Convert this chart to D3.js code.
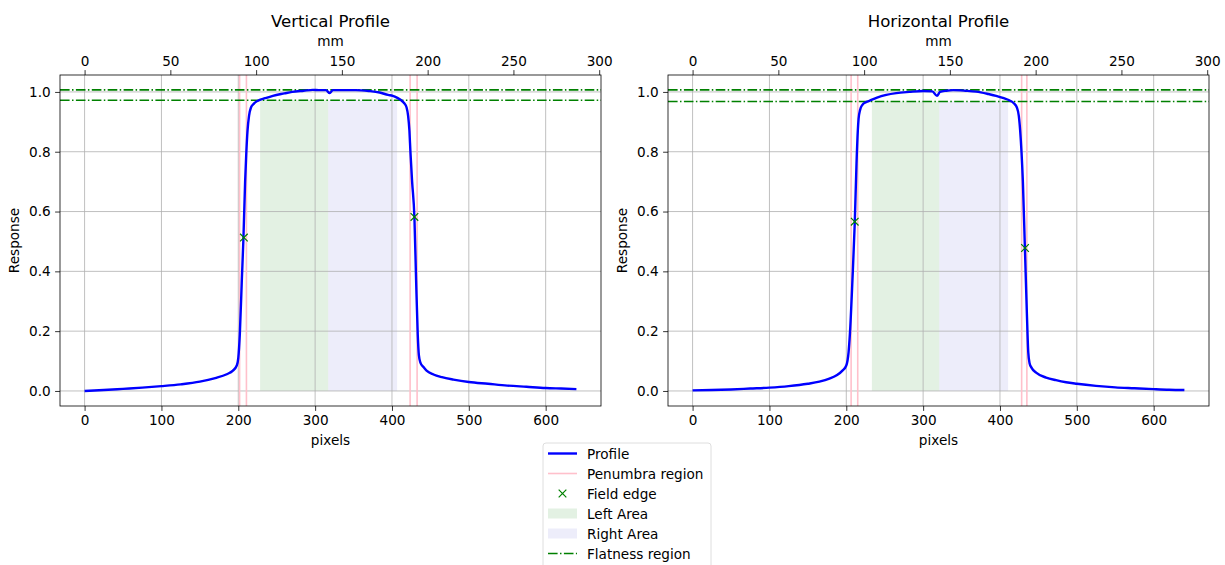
<!DOCTYPE html>
<html>
<head>
<meta charset="utf-8">
<script src="https://cdn.jsdelivr.net/npm/d3@7"></script>
<style>
  html, body { margin: 0; padding: 0; background: #fff; }
  svg { display: block; font-family: "DejaVu Sans", sans-serif; }
</style>
</head>
<body>
<div id="svgOutput"></div>
<script>
// data

const titles = ["Vertical Profile", "Horizontal Profile"];

const pixelsV = [0, 25, 50, 75, 100, 125, 150, 170, 185, 193, 198, 200, 202, 204.6, 206.7, 208.9, 210.5, 212, 214, 216.5, 220, 225, 235, 245, 260, 270, 285, 297, 305, 314, 319, 323, 335, 353, 370, 384, 395, 401, 407, 412, 416, 419, 421, 422.7, 424, 426.2, 429.2, 431.4, 433.5, 435, 437, 441, 445, 454, 465, 480, 500, 525, 550, 575, 600, 620, 640];
const responseV = [0.000, 0.003, 0.007, 0.011, 0.016, 0.022, 0.031, 0.043, 0.056, 0.068, 0.085, 0.11, 0.19, 0.37, 0.51, 0.70, 0.80, 0.87, 0.92, 0.948, 0.96, 0.97, 0.979, 0.987, 0.995, 1.0, 1.004, 1.007, 1.006, 1.006, 0.996, 1.006, 1.006, 1.006, 1.003, 0.998, 0.99, 0.987, 0.98, 0.972, 0.962, 0.948, 0.92, 0.87, 0.80, 0.70, 0.58, 0.37, 0.19, 0.12, 0.095, 0.08, 0.068, 0.055, 0.046, 0.038, 0.030, 0.024, 0.018, 0.014, 0.010, 0.008, 0.006];

const pixelsH = [0, 25, 50, 75, 100, 125, 150, 165, 178, 188, 195, 200, 203, 204.7, 208, 211, 213.3, 215, 216, 218, 221, 225, 230, 240, 252, 265, 282, 300, 312, 318, 322, 330, 339, 355, 369, 385, 395, 405, 412, 418, 422, 424.5, 426.3, 428, 429.8, 432.4, 435, 436.8, 438.5, 441, 447, 460, 473, 486, 500, 525, 550, 575, 600, 620, 640];
const responseH = [0.002, 0.003, 0.005, 0.008, 0.011, 0.016, 0.024, 0.031, 0.041, 0.053, 0.068, 0.085, 0.13, 0.19, 0.37, 0.56, 0.76, 0.87, 0.91, 0.94, 0.957, 0.965, 0.97, 0.981, 0.99, 0.996, 1.0, 1.003, 1.002, 0.987, 1.0, 1.004, 1.006, 1.004, 1.001, 0.993, 0.987, 0.979, 0.972, 0.962, 0.948, 0.92, 0.87, 0.80, 0.70, 0.48, 0.26, 0.13, 0.093, 0.078, 0.061, 0.045, 0.036, 0.029, 0.024, 0.017, 0.012, 0.009, 0.006, 0.004, 0.003];

// penumbra lines (pixels): [left20, left80, right80, right20]
const penumbraV = [201.7, 210.6, 423.6, 432.7];
const penumbraH = [206.3, 214.9, 428.2, 435.0];

// field edges [pixel, response]
const edgesV = [[207.3, 0.513], [429.2, 0.582]];
const edgesH = [[211.0, 0.566], [432.6, 0.478]];

// left / right areas (pixels)
const leftAreaV = [228.4, 317.0];
const rightAreaV = [317.0, 406.7];
const leftAreaH = [233.3, 321.0];
const rightAreaH = [321.0, 410.6];

// flatness region [low, high]
const flatV = [0.972, 1.007];
const flatH = [0.968, 1.007];

const xTicks = [0, 100, 200, 300, 400, 500, 600];
const mmTicks = [0, 50, 100, 150, 200, 250, 300];
const yTicks = [0.0, 0.2, 0.4, 0.6, 0.8, 1.0];
const mmPerPixel = 0.448;

const legendLabels = ["Profile", "Penumbra region", "Field edge", "Left Area", "Right Area", "Flatness region"];

(function () {
  document.addEventListener('DOMContentLoaded', function () {

    // config

    const width = 1225;
    const height = 565;
    const panelW = 541;
    const top = 75;
    const bottom = 406;
    const panelLefts = [60, 668];

    const green = "#008000";
    const grid = "#b0b0b0";
    const fontSize = "13.6px";
    const profileWidth = 2.4;

    const svg = d3.select("#svgOutput")
      .append("svg")
      .attr("width", width)
      .attr("height", height)
      .attr("viewBox", [0, 0, width, height]);

    const panels = [
      { px: pixelsV, py: responseV, pen: penumbraV, edges: edgesV, la: leftAreaV, ra: rightAreaV, flat: flatV },
      { px: pixelsH, py: responseH, pen: penumbraH, edges: edgesH, la: leftAreaH, ra: rightAreaH, flat: flatH }
    ];

    panels.forEach(function (p, i) {
      const left = panelLefts[i];

      // scales

      const xScale = d3.scaleLinear()
        .domain([-32, 672])
        .range([left, left + panelW]);

      const mmScale = d3.scaleLinear()
        .domain([-32 * mmPerPixel, 672 * mmPerPixel])
        .range([left, left + panelW]);

      const yScale = d3.scaleLinear()
        .domain([-0.0503, 1.0566])
        .range([bottom, top]);

      const g = svg.append("g");

      // areas

      g.append("rect")
        .attr("x", xScale(p.la[0]))
        .attr("y", yScale(p.flat[0]))
        .attr("width", xScale(p.la[1]) - xScale(p.la[0]))
        .attr("height", yScale(0) - yScale(p.flat[0]))
        .attr("fill", "#008000")
        .attr("fill-opacity", 0.11);

      g.append("rect")
        .attr("x", xScale(p.ra[0]))
        .attr("y", yScale(p.flat[0]))
        .attr("width", xScale(p.ra[1]) - xScale(p.ra[0]))
        .attr("height", yScale(0) - yScale(p.flat[0]))
        .attr("fill", "#3333cc")
        .attr("fill-opacity", 0.09);

      // grid

      g.selectAll("line.gx")
        .data(xTicks)
        .join("line")
        .attr("class", "gx")
        .attr("x1", d => xScale(d)).attr("x2", d => xScale(d))
        .attr("y1", top).attr("y2", bottom)
        .attr("stroke", grid).attr("stroke-width", 0.8);

      g.selectAll("line.gy")
        .data(yTicks)
        .join("line")
        .attr("class", "gy")
        .attr("x1", left).attr("x2", left + panelW)
        .attr("y1", d => yScale(d)).attr("y2", d => yScale(d))
        .attr("stroke", grid).attr("stroke-width", 0.8);

      // penumbra lines

      g.selectAll("line.pen")
        .data(p.pen)
        .join("line")
        .attr("class", "pen")
        .attr("x1", d => xScale(d)).attr("x2", d => xScale(d))
        .attr("y1", top).attr("y2", bottom)
        .attr("stroke", "pink").attr("stroke-width", 1.6);

      // flatness lines

      g.selectAll("line.flat")
        .data(p.flat)
        .join("line")
        .attr("class", "flat")
        .attr("x1", left).attr("x2", left + panelW)
        .attr("y1", d => yScale(d)).attr("y2", d => yScale(d))
        .attr("stroke", green).attr("stroke-width", 1.6)
        .attr("stroke-dasharray", "9.6,2.4,1.5,2.4");

      // profile line

      const line = d3.line()
        .x(d => xScale(d[0]))
        .y(d => yScale(d[1]))
        .curve(d3.curveMonotoneX);

      g.append("path")
        .attr("d", line(d3.zip(p.px, p.py)))
        .attr("fill", "none")
        .attr("stroke", "#0000ff")
        .attr("stroke-width", profileWidth)
        .attr("stroke-linejoin", "round");

      // field edge markers

      const cross = d3.symbol().type(d3.symbolX).size(40);
      g.selectAll("path.edge")
        .data(p.edges)
        .join("path")
        .attr("class", "edge")
        .attr("d", cross)
        .attr("transform", d => "translate(" + xScale(d[0]) + "," + yScale(d[1]) + ")")
        .attr("fill", "none")
        .attr("stroke", green)
        .attr("stroke-width", 1.2);

      // frame

      g.append("rect")
        .attr("x", left).attr("y", top)
        .attr("width", panelW).attr("height", bottom - top)
        .attr("fill", "none")
        .attr("stroke", "#000").attr("stroke-width", 0.8);

      // axes

      const styleAxis = function (sel) {
        sel.select(".domain").remove();
        sel.selectAll(".tick line").attr("stroke", "#000").attr("stroke-width", 0.8);
        sel.selectAll(".tick text")
          .attr("fill", "#000")
          .style("font-size", fontSize)
          .style("font-family", "DejaVu Sans, sans-serif");
      };

      svg.append("g")
        .attr("transform", "translate(0," + bottom + ")")
        .call(d3.axisBottom(xScale).tickValues(xTicks).tickSize(4.9).tickPadding(4.5))
        .call(styleAxis);

      svg.append("g")
        .attr("transform", "translate(0," + top + ")")
        .call(d3.axisTop(mmScale).tickValues(mmTicks).tickSize(4.9).tickPadding(4.5))
        .call(styleAxis);

      svg.append("g")
        .attr("transform", "translate(" + left + ",0)")
        .call(d3.axisLeft(yScale).tickValues(yTicks).tickFormat(d3.format(".1f")).tickSize(4.9).tickPadding(4.5))
        .call(styleAxis);

      // labels

      const cx = left + panelW / 2;

      svg.append("text")
        .attr("x", cx).attr("y", 27)
        .attr("text-anchor", "middle")
        .style("font-size", "16.6px")
        .text(titles[i]);

      svg.append("text")
        .attr("x", cx).attr("y", 46)
        .attr("text-anchor", "middle")
        .style("font-size", fontSize)
        .text("mm");

      svg.append("text")
        .attr("x", cx).attr("y", 445)
        .attr("text-anchor", "middle")
        .style("font-size", fontSize)
        .text("pixels");

      svg.append("text")
        .attr("transform", "translate(" + (left - 41) + "," + ((top + bottom) / 2) + ") rotate(-90)")
        .attr("text-anchor", "middle")
        .style("font-size", fontSize)
        .text("Response");
    });

    // legend

    const lg = svg.append("g").attr("transform", "translate(543,443)");

    lg.append("rect")
      .attr("x", 0).attr("y", 0)
      .attr("width", 168).attr("height", 140)
      .attr("rx", 3)
      .attr("fill", "#fff")
      .attr("stroke", "#d6d6d6")
      .attr("stroke-width", 0.8);

    const rowY = d => 10.5 + d * 20;

    legendLabels.forEach(function (label, k) {
      const y = rowY(k);
      if (k === 0) {
        lg.append("line").attr("x1", 5).attr("x2", 34).attr("y1", y).attr("y2", y)
          .attr("stroke", "#0000ff").attr("stroke-width", profileWidth);
      } else if (k === 1) {
        lg.append("line").attr("x1", 5).attr("x2", 34).attr("y1", y).attr("y2", y)
          .attr("stroke", "pink").attr("stroke-width", 1.6);
      } else if (k === 2) {
        lg.append("path")
          .attr("d", d3.symbol().type(d3.symbolX).size(40))
          .attr("transform", "translate(19.5," + y + ")")
          .attr("fill", "none").attr("stroke", green).attr("stroke-width", 1.2);
      } else if (k === 3) {
        lg.append("rect").attr("x", 5).attr("y", y - 5).attr("width", 29).attr("height", 10)
          .attr("fill", "#008000").attr("fill-opacity", 0.11);
      } else if (k === 4) {
        lg.append("rect").attr("x", 5).attr("y", y - 5).attr("width", 29).attr("height", 10)
          .attr("fill", "#3333cc").attr("fill-opacity", 0.09);
      } else {
        lg.append("line").attr("x1", 5).attr("x2", 34).attr("y1", y).attr("y2", y)
          .attr("stroke", green).attr("stroke-width", 1.6)
          .attr("stroke-dasharray", "9.6,2.4,1.5,2.4");
      }
      lg.append("text")
        .attr("x", 44).attr("y", y + 5)
        .style("font-size", fontSize)
        .text(label);
    });

  });
})();
</script>
</body>
</html>
